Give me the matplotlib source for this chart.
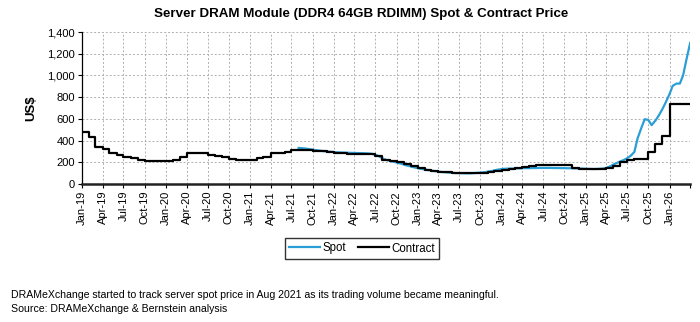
import pandas as pd
import matplotlib
matplotlib.use("Agg")
import matplotlib.pyplot as plt
import matplotlib.dates as mdates

plt.rcParams["font.family"] = ["Liberation Sans", "DejaVu Sans"]

# monthly contract price, Jan-19 .. Apr-26 (US$)
contract_start = "2019-01-01"
contract = [
    475, 430, 345, 325, 285, 265, 245, 235, 225, 215, 212, 212,
    212, 225, 250, 290, 290, 290, 268, 260, 248, 232, 220, 220,
    225, 240, 252, 285, 288, 292, 316, 316, 316, 300, 300, 298,
    285, 282, 280, 278, 277, 276, 256, 225, 212, 198, 180, 162,
    146, 133, 124, 115, 108, 102, 99, 97, 99, 104, 112, 123,
    128, 140, 150, 155, 165, 172, 174, 174, 174, 174, 150, 142,
    140, 140, 140, 145, 170, 200, 222, 227, 230, 295, 370, 445,
    735, 735, 735, 735,
]

# semi-monthly spot price, tracked from Aug-21 (US$)
spot_start = "2021-08-01"
spot = [
    332, 330, 326, 322, 316, 312, 307, 303, 300, 297,
    294, 292, 290, 289, 288, 287, 286, 285, 284, 283, 281, 278,
    270, 258, 236, 224, 214, 206, 198, 190, 180, 170, 162, 154,
    146, 140, 134, 129, 124, 119, 115, 111, 108, 105, 103, 101,
    100, 99, 98, 98, 100, 102, 105, 108, 113, 118, 125, 132,
    138, 140, 142, 142, 143, 144, 145, 146, 146, 147, 147, 148,
    148, 148, 148, 147, 147, 146, 146, 145, 145, 144, 143, 142,
    140, 139, 138, 138, 140, 142, 148, 160, 178, 192, 208, 220,
    238, 258, 295, 420, 520, 597, 590, 542, 585, 630, 690, 750,
    828, 905, 925, 925, 1000, 1140, 1300,
]

title = "Server DRAM Module (DDR4 64GB RDIMM) Spot & Contract Price"
note = "DRAMeXchange started to track server spot price in Aug 2021 as its trading volume became meaningful."
source = "Source: DRAMeXchange & Bernstein analysis"

contract_dates = pd.date_range(contract_start, periods=len(contract), freq="MS")
spot_dates = pd.date_range(spot_start, periods=len(spot), freq="SMS")

fig = plt.figure(figsize=(7.0, 3.22), dpi=100)
ax = fig.add_axes([0.117, 0.4286, 0.869, 0.472])

ax.plot(spot_dates, spot, color="#2a9fd6", lw=1.6, label="Spot")
ax.plot(contract_dates, contract, color="black", lw=1.6,
        drawstyle="steps-post", label="Contract")

ax.set_xlim(pd.Timestamp("2019-01-01"), pd.Timestamp("2026-04-01"))
ax.set_ylim(0, 1400)
ax.set_yticks(range(0, 1401, 200))
ax.yaxis.set_major_formatter(matplotlib.ticker.FuncFormatter(lambda v, p: f"{int(v):,}"))

# quarterly ticks, the closing Apr-26 one left unlabelled
ax.xaxis.set_major_locator(mdates.MonthLocator(bymonth=[1, 4, 7, 10]))
ticks = ax.get_xticks()
last = mdates.date2num(pd.Timestamp("2026-03-01"))
ax.set_xticks(ticks)
ax.set_xticklabels([mdates.num2date(t).strftime("%b-%y") if t < last else "" for t in ticks],
                   rotation=90)

ax.tick_params(axis="both", labelsize=8, length=3, width=0.8, color="black", pad=2)
ax.grid(True, color="#b0b0b0", ls=(0, (2, 2)), lw=0.7)
ax.set_axisbelow(True)

for side in ["top", "right"]:
    ax.spines[side].set_visible(False)
ax.spines["left"].set_linewidth(0.9)
ax.spines["bottom"].set_linewidth(1.8)
ax.spines["bottom"].set_color("#222222")

ax.set_ylabel("US$", fontsize=9.5, fontweight="bold", labelpad=7)

fig.text(0.516, 0.955, title, ha="center", va="center", fontsize=9.6, fontweight="bold")

leg = fig.legend(loc="center", bbox_to_anchor=(362 / 700, 1 - 248.5 / 322), ncol=2,
                 frameon=True, fancybox=False, edgecolor="black", fontsize=8.3,
                 handlelength=2.7, handletextpad=0.25, columnspacing=1.0,
                 borderpad=0.35)
leg.get_frame().set_linewidth(1.0)

fig.text(11 / 700, 1 - 298 / 322, note, fontsize=7.6, va="baseline")
fig.text(11 / 700, 1 - 312 / 322, source, fontsize=7.6, va="baseline")

fig.savefig("out.png", dpi=100)
